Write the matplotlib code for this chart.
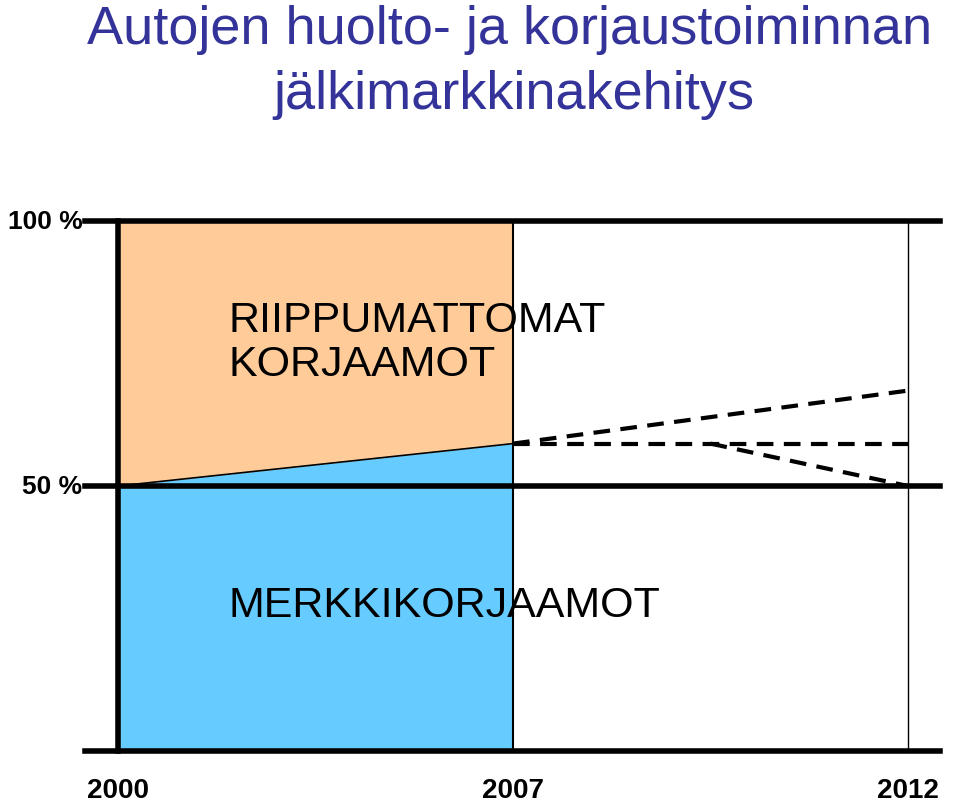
import matplotlib.pyplot as plt

plt.rcParams['font.family'] = ['Liberation Sans', 'DejaVu Sans']

# positions 0, 1, 2 stand for the labelled years
years = ['2000', '2007', '2012']
pos = [0, 1, 2]
share_known = [50, 58]          # merkkikorjaamot share 2000 -> 2007
scen_high = [58, 68]            # 2007 -> 2012
scen_flat = [58, 58]
scen_low_x = [1.5, 2]
scen_low = [58, 50]

fig = plt.figure(figsize=(9.6, 8.03), dpi=100)
ax = fig.add_axes([85/960, 1-752/803, (940-85)/960, (752-222)/803])
ax.set_xlim(-33/395, 822/395)
ax.set_ylim(0, 100)
ax.axis('off')

ax.fill_between(pos[:2], 0, share_known, color='#66ccff', lw=0)
ax.fill_between(pos[:2], share_known, 100, color='#ffcc99', lw=0)
ax.plot(pos[:2], share_known, color='black', lw=1.2)

for y in [0, 50, 100]:
    ax.axhline(y, color='black', lw=4, clip_on=False)
ax.plot([0, 0], [0, 100], color='black', lw=4, clip_on=False)
ax.plot([1, 1], [0, 100], color='black', lw=1.5)
ax.plot([2, 2], [0, 100], color='black', lw=1)

dash = dict(color='black', lw=3, ls=(0, (4, 2.5)))
ax.plot(pos[1:], scen_high, **dash)
ax.plot(pos[1:], scen_flat, **dash)
ax.plot(scen_low_x, scen_low, **dash)

ax.text(0.28, 77.2, 'RIIPPUMATTOMAT\nKORJAAMOT', fontsize=31, va='center', linespacing=1.12)
ax.text(0.28, 27.5, 'MERKKIKORJAAMOT', fontsize=31, va='center')

for p, lab in zip(pos, years):
    ax.text(p, -5, lab, fontsize=20, fontweight='bold', ha='center', va='top')
ax.text(-0.09, 100, '100 %', fontsize=19, fontweight='bold', ha='right', va='center')
ax.text(-0.09, 50, '50 %', fontsize=19, fontweight='bold', ha='right', va='center')

fig.text(0.531, 1-30/803, 'Autojen huolto- ja korjaustoiminnan',
         fontsize=39, color='#333399', ha='center', va='center')
fig.text(0.535, 1-95/803, 'jälkimarkkinakehitys',
         fontsize=39, color='#333399', ha='center', va='center')

fig.savefig('out.png')
